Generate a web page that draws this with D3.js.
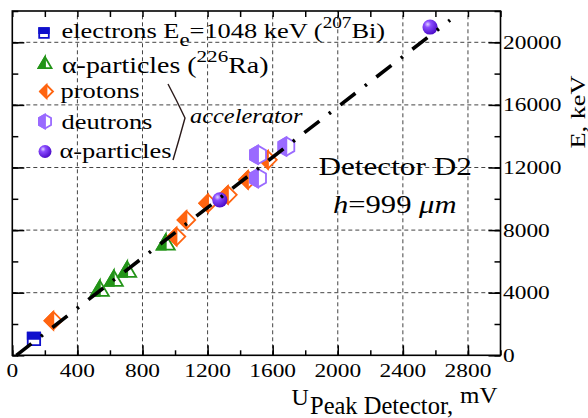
<!DOCTYPE html>
<head>
<meta charset="utf-8">
<script src="https://d3js.org/d3.v7.min.js"></script>
<style>
  body { margin: 0; background: #fff; }
</style>
</head>
<body>
<script>
// data (U in mV, E in keV)
var electronsU = [133];
var electronsE = [1048];
var alphaRaU = [538, 624, 706, 943];
var alphaRaE = [4285, 4925, 5500, 7246];
var protonsU = [252, 1009, 1070, 1203, 1325, 1448, 1571];
var protonsE = [2213, 7585, 8653, 9721, 10252, 11211, 12490];
var deutronsU = [1510, 1510, 1684];
var deutronsE = [11320, 12810, 13341];
var alphaAccU = [1275, 2567];
var alphaAccE = [9933, 20977];
var fitU = [25, 2690];
var fitE = [0, 21420];

var xTicks = [0, 400, 800, 1200, 1600, 2000, 2400, 2800];
var yTicks = [0, 4000, 8000, 12000, 16000, 20000];

var width = 588, height = 418;
var S = 1.2; // the original is a bit stretched sideways
var serif = "Liberation Serif";

var svg = d3.select("body").append("svg")
  .attr("width", width)
  .attr("height", height);

var x = d3.scaleLinear().domain([0, 3000]).range([12.3, 500.5]);
var y = d3.scaleLinear().domain([0, 22000]).range([355.3, 11]);

var defs = svg.append("defs");
var grad = defs.append("radialGradient").attr("id", "ball")
  .attr("cx", "35%").attr("cy", "32%").attr("r", "70%");
grad.append("stop").attr("offset", "0%").attr("stop-color", "#e0d4ff");
grad.append("stop").attr("offset", "30%").attr("stop-color", "#8a4cff");
grad.append("stop").attr("offset", "100%").attr("stop-color", "#4c0cc8");

// grid
svg.append("g").selectAll("line")
  .data(xTicks.filter(d => d > 0))
  .enter().append("line")
  .attr("x1", d => x(d)).attr("x2", d => x(d))
  .attr("y1", y(0)).attr("y2", y(22000))
  .style("stroke", "#444").style("stroke-width", 1).style("stroke-dasharray", "4,3");
svg.append("g").selectAll("line")
  .data(yTicks.filter(d => d > 0))
  .enter().append("line")
  .attr("x1", x(0)).attr("x2", x(3000))
  .attr("y1", d => y(d)).attr("y2", d => y(d))
  .style("stroke", "#444").style("stroke-width", 1).style("stroke-dasharray", "4,3");

// axes: ticks point inwards on all four sides
function tickAxis(axis, scale, ticks, size) {
  return axis(scale).tickValues(ticks).tickSize(size).tickFormat("");
}
var minorX = d3.range(0, 3001, 200), majorX = xTicks;
var minorY = d3.range(0, 22001, 2000), majorY = yTicks;

svg.append("g").attr("transform", "translate(0," + y(0) + ")")
  .call(tickAxis(d3.axisTop, x, minorX, 5));
svg.append("g").attr("transform", "translate(0," + y(0) + ")")
  .call(tickAxis(d3.axisTop, x, majorX, 10));
svg.append("g").attr("transform", "translate(0," + y(22000) + ")")
  .call(tickAxis(d3.axisBottom, x, minorX, 6));
svg.append("g").attr("transform", "translate(" + x(0) + ",0)")
  .call(tickAxis(d3.axisRight, y, minorY, 6));
svg.append("g").attr("transform", "translate(" + x(0) + ",0)")
  .call(tickAxis(d3.axisRight, y, majorY, 12));
svg.append("g").attr("transform", "translate(" + x(3000) + ",0)")
  .call(tickAxis(d3.axisLeft, y, minorY, 6));
svg.append("g").attr("transform", "translate(" + x(3000) + ",0)")
  .call(tickAxis(d3.axisLeft, y, majorY, 12));
svg.selectAll(".domain").remove();
svg.selectAll(".tick line").style("stroke", "#000").style("stroke-width", 1.5);

svg.append("rect")
  .attr("x", x(0)).attr("y", y(22000))
  .attr("width", x(3000) - x(0)).attr("height", y(0) - y(22000))
  .style("fill", "none").style("stroke", "#000").style("stroke-width", 1.6);

// text helper
function txt(px, py, size, sx, anchor) {
  return svg.append("text")
    .attr("transform", "translate(" + px + "," + py + ") scale(" + sx + ",1)")
    .style("font-family", serif)
    .style("font-size", size + "px")
    .attr("text-anchor", anchor || "start");
}

xTicks.forEach(function(d) {
  txt(x(d), 377, 19.5, S, "middle").text(d);
});
yTicks.forEach(function(d) {
  txt(503, y(d) + 6.5, 19.5, 1.2).text(d);
});

// markers
var blue = "#1010cc", green = "#239418", orange = "#ff6410", lilac = "#9a6aff";

function poly(g, pts, fill, stroke) {
  g.append("polygon").attr("points", pts.map(p => p.join(",")).join(" "))
    .style("fill", fill).style("stroke", stroke || "none")
    .style("stroke-width", 1.8).style("stroke-linejoin", "miter");
}
function square(g, cx, cy, r) {
  poly(g, [[cx - r, cy - r], [cx + r, cy - r], [cx + r, cy + r], [cx - r, cy + r]], "#fff", blue);
  poly(g, [[cx - r, cy - r], [cx + r, cy - r], [cx + r, cy], [cx - r, cy]], blue, blue);
}
function triangle(g, cx, cy, r) {
  var h = r * 0.85;
  poly(g, [[cx, cy - h], [cx + r, cy + h], [cx - r, cy + h]], "#fff", green);
  poly(g, [[cx, cy - h], [cx, cy + h], [cx - r, cy + h]], green, green);
}
function diamond(g, cx, cy, r) {
  poly(g, [[cx, cy - r], [cx + r, cy], [cx, cy + r], [cx - r, cy]], "#fff", orange);
  poly(g, [[cx, cy - r], [cx, cy + r], [cx - r, cy]], orange, orange);
}
function hexagon(g, cx, cy, r) {
  var w = r * 0.866;
  poly(g, [[cx, cy - r], [cx + w, cy - r / 2], [cx + w, cy + r / 2], [cx, cy + r],
           [cx - w, cy + r / 2], [cx - w, cy - r / 2]], "#fff", lilac);
  poly(g, [[cx, cy - r], [cx, cy + r], [cx - w, cy + r / 2], [cx - w, cy - r / 2]], lilac, lilac);
}
function ball(g, cx, cy, r) {
  g.append("circle").attr("cx", cx).attr("cy", cy).attr("r", r)
    .style("fill", "url(#ball)");
}

var pts = svg.append("g");
electronsU.forEach((u, i) => square(pts, x(u), y(electronsE[i]), 6.2));
alphaRaU.forEach((u, i) => triangle(pts, x(u), y(alphaRaE[i]), 9));
protonsU.forEach((u, i) => diamond(pts, x(u), y(protonsE[i]), 8.8));
deutronsU.forEach((u, i) => hexagon(pts, x(u), y(deutronsE[i]), 9.2));
alphaAccU.forEach((u, i) => ball(pts, x(u), y(alphaAccE[i]), 7.6));

// fit line
var line = d3.line().x(d => x(d[0])).y(d => y(d[1]));
svg.append("path")
  .datum(fitU.map((u, i) => [u, fitE[i]]))
  .attr("d", line)
  .style("fill", "none").style("stroke", "#000")
  .style("stroke-width", 3.6)
  .style("stroke-dasharray", "19,12,2.5,12");

// legend
var leg = svg.append("g");
square(leg, 44, 33, 4.8);
triangle(leg, 45, 62.5, 6.5);
diamond(leg, 46.5, 91.5, 6.5);
hexagon(leg, 45, 121.5, 7);
ball(leg, 45, 151.5, 6.5);

var t1 = txt(61.5, 37.5, 22, S);
t1.append("tspan").text("electrons E");
t1.append("tspan").attr("dy", 8).style("font-size", "19px").text("e");
t1.append("tspan").attr("dy", -8).text("=1048 keV (");
t1.append("tspan").attr("dy", -10).style("font-size", "16px").text("207");
t1.append("tspan").attr("dy", 10).text("Bi)");

var t2 = txt(62, 72.7, 22.5, 1.24);
t2.append("tspan").text("\u03b1-particles (");
t2.append("tspan").attr("dy", -11).style("font-size", "17px").text("226");
t2.append("tspan").attr("dy", 11).text("Ra)");

txt(60.5, 97.7, 22, S).text("protons");
txt(61.5, 129.3, 22, S).text("deutrons");
txt(59.5, 158.3, 22, S).text("\u03b1-particles");

svg.append("path")
  .attr("d", "M168,84 Q177,101 185,118 Q179,140 173,160")
  .style("fill", "none").style("stroke", "#2a1a1a").style("stroke-width", 1.4);
txt(190, 123, 20, 1.22).style("font-style", "italic").text("accelerator");

// annotations
txt(318.5, 175, 26, 1.2).text("Detector D2");
var h = txt(333, 212.5, 25.5, S).style("font-style", "italic");
h.append("tspan").text("h");
h.append("tspan").style("font-style", "normal").text("=999 ");
h.append("tspan").text("\u03bcm");

// axis titles
txt(291.5, 405, 24, 1.0).text("U");
txt(310, 413.5, 24.5, 1.0).text("Peak Detector,");
txt(460, 403, 24, 1.04).text("mV");

svg.append("text")
  .attr("transform", "translate(585,112) rotate(-90) scale(1.25,1)")
  .attr("text-anchor", "middle")
  .style("font-family", serif)
  .style("font-size", "21px")
  .text("E, keV");
</script>
</body>
